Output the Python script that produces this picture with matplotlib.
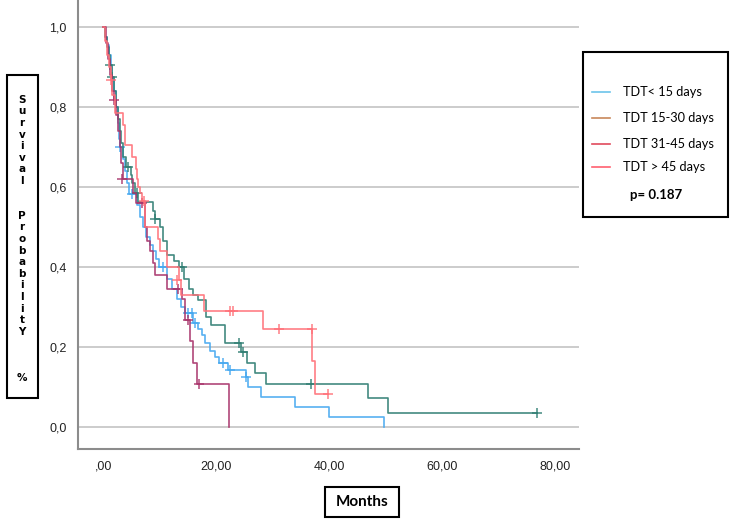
import matplotlib.pyplot as plt
from matplotlib.patches import Rectangle
from matplotlib.lines import Line2D

# Kaplan-Meier steps: (time in months, survival after the drop)
lt15_t = [0.3, 0.6, 0.9, 1.3, 1.6, 1.9, 2.2, 2.5, 2.8, 3.0, 3.4, 3.8, 4.2, 4.5, 6.0, 6.5, 7.0, 7.6,
          8.2, 8.7, 9.3, 9.9, 11.2, 12.2, 13.1, 13.8, 14.4, 15.8, 16.8, 17.5, 18.0, 18.8, 19.8, 20.5,
          22.0, 25.3, 25.6, 27.9, 33.9, 39.9, 49.6]
lt15_s = [0.975, 0.955, 0.93, 0.90, 0.87, 0.84, 0.80, 0.76, 0.72, 0.70, 0.67, 0.64, 0.61, 0.583,
          0.555, 0.525, 0.50, 0.475, 0.455, 0.44, 0.42, 0.40, 0.37, 0.345, 0.32, 0.30, 0.283, 0.26,
          0.245, 0.23, 0.21, 0.19, 0.175, 0.16, 0.142, 0.124, 0.10, 0.075, 0.05, 0.025, 0.0]
lt15_end = 49.6
lt15_cens_t = [3.0, 5.0, 10.5, 15.0, 15.6, 16.3, 21.2, 22.4, 25.2]
lt15_cens_s = [0.70, 0.583, 0.40, 0.283, 0.283, 0.26, 0.16, 0.142, 0.124]

d15_t = [0.3, 0.7, 1.0, 1.2, 1.6, 1.9, 2.2, 2.5, 2.9, 3.2, 3.5, 4.0, 4.8, 5.1, 5.6, 6.1, 8.8, 9.2,
         10.0, 10.6, 11.3, 12.5, 13.3, 14.3, 15.2, 15.8, 16.7, 18.2, 19.1, 21.6, 24.4, 25.5, 26.8,
         28.8, 46.8, 50.4]
d15_s = [0.975, 0.95, 0.93, 0.905, 0.875, 0.84, 0.80, 0.77, 0.74, 0.71, 0.675, 0.65, 0.63, 0.61,
         0.585, 0.5625, 0.54, 0.52, 0.50, 0.465, 0.43, 0.415, 0.40, 0.37, 0.345, 0.33, 0.3175, 0.275,
         0.255, 0.21, 0.1875, 0.16, 0.135, 0.1075, 0.0725, 0.035]
d15_end = 76.7
d15_cens_t = [1.2, 1.6, 4.3, 5.9, 9.1, 13.9, 24.0, 24.7, 36.8, 76.7]
d15_cens_s = [0.905, 0.875, 0.65, 0.585, 0.52, 0.40, 0.21, 0.1875, 0.1075, 0.035]

d31_t = [0.4, 0.8, 1.2, 1.6, 1.9, 2.3, 2.6, 2.9, 3.2, 3.5, 5.3, 5.8, 7.3, 7.8, 8.3, 8.7, 9.1, 11.3,
         14.0, 14.4, 15.3, 15.9, 16.6, 22.2]
d31_s = [0.96, 0.92, 0.88, 0.84, 0.817, 0.78, 0.74, 0.70, 0.66, 0.62, 0.585, 0.56, 0.50, 0.465,
         0.44, 0.41, 0.38, 0.345, 0.32, 0.267, 0.213, 0.16, 0.107, 0.0]
d31_end = 22.2
d31_cens_t = [1.9, 3.3, 6.8, 13.2, 15.0, 16.9]
d31_cens_s = [0.817, 0.62, 0.56, 0.345, 0.267, 0.107]

gt45_t = [0.3, 0.7, 1.0, 1.3, 1.6, 2.0, 3.4, 3.9, 5.0, 5.8, 5.9, 6.1, 6.5, 6.8, 7.4, 9.6, 10.1,
          11.3, 13.3, 13.7, 17.8, 28.2, 36.9, 37.4]
gt45_s = [0.965, 0.93, 0.90, 0.867, 0.83, 0.785, 0.755, 0.705, 0.675, 0.645, 0.62, 0.60, 0.585,
          0.564, 0.50, 0.47, 0.44, 0.40, 0.367, 0.33, 0.29, 0.244, 0.163, 0.082]
gt45_end = 39.7
gt45_cens_t = [1.3, 7.2, 13.0, 22.4, 22.9, 31.1, 36.9, 39.7]
gt45_cens_s = [0.867, 0.564, 0.367, 0.29, 0.29, 0.244, 0.244, 0.082]

labels = ['TDT< 15 days', 'TDT 15-30 days', 'TDT 31-45 days', 'TDT > 45 days']
curve_colors = ['#45a8f0', '#2e7d72', '#a8336a', '#ff7078']
legend_colors = ['#6cc4ea', '#c8875a', '#e04a5c', '#ff6070']
y_ticks = [0.0, 0.2, 0.4, 0.6, 0.8, 1.0]
y_ticklabels = ['0,0', '0,2', '0,4', '0,6', '0,8', '1,0']
x_ticks = [0, 20, 40, 60, 80]
x_ticklabels = [',00', '20,00', '40,00', '60,00', '80,00']
p_text = 'p= 0.187'

series = [
    (lt15_t, lt15_s, lt15_end, lt15_cens_t, lt15_cens_s),
    (d15_t, d15_s, d15_end, d15_cens_t, d15_cens_s),
    (d31_t, d31_s, d31_end, d31_cens_t, d31_cens_s),
    (gt45_t, gt45_s, gt45_end, gt45_cens_t, gt45_cens_s),
]

fig = plt.figure(figsize=(7.34, 5.25), dpi=100)
ax = fig.add_axes([78 / 734, 76 / 525, 501 / 734, 449 / 525])

for (t, s, end, ct, cs), col in zip(series, curve_colors):
    xs = [0] + t + [end]
    ys = [1.0] + s + [s[-1]]
    ax.step(xs, ys, where='post', color=col, lw=1.2, alpha=0.9)
    ax.plot(ct, cs, '+', color=col, ms=7, mew=1.1, alpha=0.9)

ax.set_xlim(-4.5, 84.2)
ax.set_ylim(-0.056, 1.067)
ax.set_yticks(y_ticks)
ax.set_yticklabels(y_ticklabels, fontfamily='Liberation Sans', fontsize=9)
ax.set_xticks(x_ticks)
ax.set_xticklabels(x_ticklabels, fontfamily='Liberation Sans', fontsize=9)
ax.tick_params(length=0, pad=8, colors='#222222')
ax.grid(axis='y', color='#c8c8c8', lw=1.3)
ax.set_axisbelow(True)
for side in ['top', 'right']:
    ax.spines[side].set_visible(False)
for side in ['left', 'bottom']:
    ax.spines[side].set_color('#8c8c8c')
    ax.spines[side].set_linewidth(1.5)

# y label box with stacked letters
fig.patches.append(Rectangle((7 / 734, 1 - 398 / 525), 31 / 734, 323 / 525,
                             transform=fig.transFigure, fill=False, ec='black', lw=1.5))
ylab = 'Survival  Probabilit' + 'Y   %'
fig.text(22 / 734, 1 - 239 / 525, '\n'.join(ylab), ha='center', va='center',
         fontsize=7.5, fontweight='bold', linespacing=1.2, fontfamily='DejaVu Sans')

# x label box
fig.patches.append(Rectangle((325 / 734, 1 - 517 / 525), 74 / 734, 30 / 525,
                             transform=fig.transFigure, fill=False, ec='black', lw=1.5))
fig.text(362 / 734, 1 - 502 / 525, 'Months', ha='center', va='center',
         fontsize=11, fontweight='bold', fontfamily='Lato')

# legend box
fig.patches.append(Rectangle((583 / 734, 1 - 217 / 525), 145 / 734, 165 / 525,
                             transform=fig.transFigure, fill=True, fc='white', ec='black', lw=1.5))
rows_y = [92, 118, 144, 167]
for lab, col, ry in zip(labels, legend_colors, rows_y):
    fig.lines.append(Line2D([592 / 734, 610 / 734], [1 - ry / 525, 1 - ry / 525],
                            transform=fig.transFigure, color=col, lw=1.2))
    fig.text(623 / 734, 1 - ry / 525, lab, ha='left', va='center', fontsize=9.2, fontfamily='Lato')
fig.text(656 / 734, 1 - 195 / 525, p_text, ha='center', va='center', fontsize=9.5,
         fontweight='bold', fontfamily='Lato')

fig.savefig('out.png', dpi=100)
